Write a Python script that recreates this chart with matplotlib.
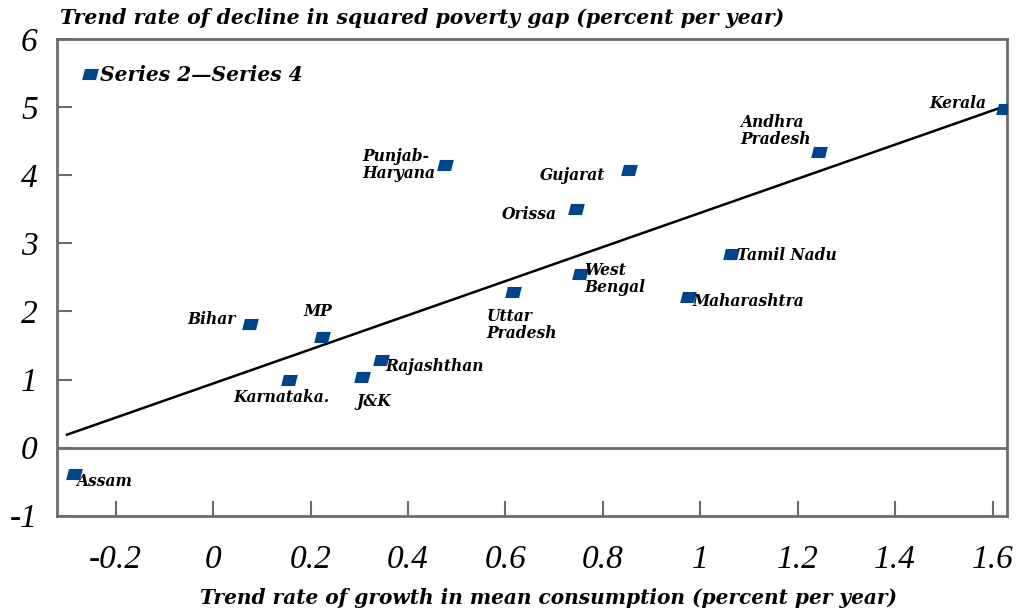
import matplotlib
matplotlib.use("Agg")
import matplotlib.pyplot as plt
from matplotlib.path import Path

# ---- data ----
states = ["Assam", "Bihar", "MP", "Karnataka.", "J&K", "Rajashthan",
          "Punjab-\nHaryana", "Gujarat", "Orissa", "Uttar\nPradesh",
          "West\nBengal", "Maharashtra", "Tamil Nadu", "Andhra\nPradesh", "Kerala"]
growth = [-0.286, 0.075, 0.223, 0.155, 0.305, 0.344,
          0.476, 0.854, 0.745, 0.615, 0.753, 0.974, 1.064, 1.244, 1.624]
decline = [-0.39, 1.81, 1.62, 1.00, 1.04, 1.29,
           4.15, 4.08, 3.50, 2.29, 2.55, 2.21, 2.85, 4.34, 4.97]
trend_x = [-0.30, 1.62]
trend_y = [0.19, 5.00]
xticks = [-0.2, 0, 0.2, 0.4, 0.6, 0.8, 1.0, 1.2, 1.4, 1.6]
xticklabels = ["-0.2", "0", "0.2", "0.4", "0.6", "0.8", "1", "1.2", "1.4", "1.6"]
yticks = [-1, 0, 1, 2, 3, 4, 5, 6]
yticklabels = ["-1", "0", "1", "2", "3", "4", "5", "6"]

# label placement (offset pixels, alignment)
label_pos = {
    "Assam": ((2, -7), "left"),
    "Bihar": ((-14, 5), "right"),
    "MP": ((-4, 26), "center"),
    "Karnataka.": ((-7, -18), "center"),
    "J&K": ((12, -25), "center"),
    "Rajashthan": ((5, -7), "left"),
    "Punjab-\nHaryana": ((-10, 0), "right"),
    "Gujarat": ((-24, -6), "right"),
    "Orissa": ((-19, -5), "right"),
    "Uttar\nPradesh": ((-26, -33), "left"),
    "West\nBengal": ((4, -5), "left"),
    "Maharashtra": ((5, -4), "left"),
    "Tamil Nadu": ((6, -2), "left"),
    "Andhra\nPradesh": ((-79, 21), "left"),
    "Kerala": ((-18, 6), "right"),
}

SERIF = "DejaVu Serif"
TICKFONT = "Liberation Serif"
BLUE = "#00458c"
GRAY = "#6b6b6b"

para = Path([(-0.6, -0.4), (0.4, -0.4), (0.6, 0.4), (-0.4, 0.4), (-0.6, -0.4)],
            [Path.MOVETO, Path.LINETO, Path.LINETO, Path.LINETO, Path.CLOSEPOLY])

fig = plt.figure(figsize=(10.19, 6.13), dpi=100)
ax = fig.add_axes([0.0562, 0.1587, 0.9317, 0.7777])

ax.axhline(0, color=GRAY, lw=2, zorder=1)
ax.plot(trend_x, trend_y, color="black", lw=1.8, zorder=2)
ax.plot(growth, decline, linestyle="none", marker=para, markersize=12,
        color=BLUE, markeredgewidth=0, zorder=3, label="Series 2\u2014Series 4")

for name, x, y in zip(states, growth, decline):
    (dx, dy), ha = label_pos[name]
    ax.annotate(name, (x, y), xytext=(dx, dy), textcoords="offset pixels",
                ha=ha, va="center", multialignment="left",
                fontfamily=SERIF, fontstyle="italic", fontweight="bold",
                fontsize=11.2, linespacing=1.0, zorder=4)

ax.set_xlim(-0.32, 1.629)
ax.set_ylim(-1, 6)
ax.set_xticks(xticks)
ax.set_xticklabels(xticklabels)
ax.set_yticks(yticks)
ax.set_yticklabels(yticklabels)
for lab in ax.get_xticklabels() + ax.get_yticklabels():
    lab.set_fontfamily(TICKFONT)
    lab.set_fontstyle("italic")
    lab.set_fontsize(24)
ax.tick_params(axis="x", direction="in", length=11, width=1.5, color=GRAY, pad=21)
ax.tick_params(axis="y", direction="in", length=11, width=1.5, color=GRAY, pad=14)
for s in ax.spines.values():
    s.set_color(GRAY)
    s.set_linewidth(2)

leg = ax.legend(loc="center left", bbox_to_anchor=(82 / 1019, 1 - 75 / 613),
                bbox_transform=fig.transFigure, frameon=False, borderpad=0,
                handlelength=0.8, handletextpad=0.1, borderaxespad=0,
                prop=dict(family=SERIF, style="italic", weight="bold", size=14.6))

fig.text(60 / 1019, 1 - 18 / 613,
         "Trend rate of decline in squared poverty gap (percent per year)",
         ha="left", va="center", fontfamily=SERIF, fontstyle="italic",
         fontweight="bold", fontsize=14.7)
fig.text(548 / 1019, 1 - 598 / 613,
         "Trend rate of growth in mean consumption (percent per year)",
         ha="center", va="center", fontfamily=SERIF, fontstyle="italic",
         fontweight="bold", fontsize=14.5)

fig.savefig("out.png", dpi=100)
